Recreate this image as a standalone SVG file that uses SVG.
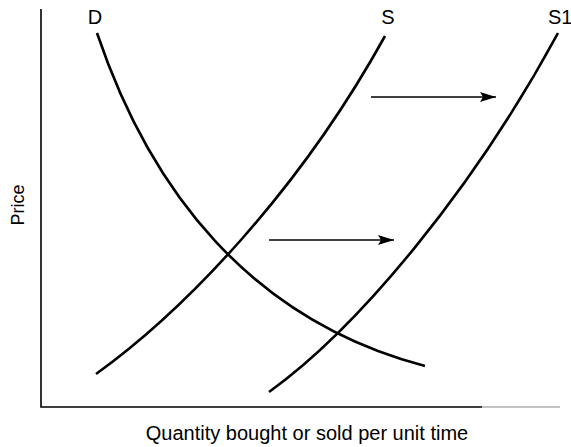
<svg xmlns="http://www.w3.org/2000/svg" width="571" height="447" viewBox="0 0 571 447">
<style>
.curve{fill:none;stroke:#000;stroke-width:2.6;stroke-linecap:butt}
.axis{fill:none;stroke:#000;stroke-width:1.6}
.arrow{fill:none;stroke:#000;stroke-width:1.6}
.lbl{font-family:"Liberation Sans",Arial,sans-serif;font-size:20px;fill:#000}
</style>
<defs>
<marker id="ah" viewBox="0 0 16 10" refX="16" refY="5" markerWidth="16" markerHeight="10" markerUnits="userSpaceOnUse" orient="auto">
<path d="M0,0 L16,5 L0,10 L3,5 Z" fill="#000"/>
</marker>
</defs>
<g id="axes">
<path class="axis" d="M41,9 V407 H482"/>
<path d="M482,407 H560" stroke="#888" stroke-width="1" fill="none"/>
</g>
<g id="curve-D">
<path class="curve" d="M97,33 C150,190 250,320 425,366"/>
<text class="lbl" x="95" y="24" text-anchor="middle">D</text>
</g>
<g id="curve-S">
<path class="curve" d="M96,374 C185,310 300,190 385,36"/>
<text class="lbl" x="388" y="24" text-anchor="middle">S</text>
</g>
<g id="curve-S1">
<path class="curve" d="M269,392 C358,328 473,190 558,33"/>
<text class="lbl" x="548" y="24">S1</text>
</g>
<g id="connectors">
<path class="arrow" d="M371,97 H496" marker-end="url(#ah)"/>
<path class="arrow" d="M269,240 H394" marker-end="url(#ah)"/>
</g>
<g id="labels">
<text class="lbl" style="font-size:18px" transform="translate(24,205) rotate(-90)" text-anchor="middle">Price</text>
<text class="lbl" x="307" y="440" text-anchor="middle">Quantity bought or sold per unit time</text>
</g>
</svg>
